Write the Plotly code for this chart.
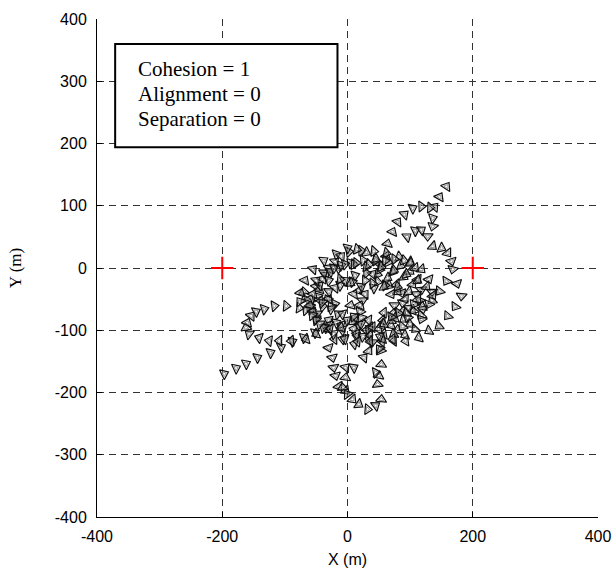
import numpy as np
import plotly.graph_objects as go

# ---- data ----
goal_x = [-200, 200]
goal_y = [0, 0]

track_a_x = [-197, -178, -162, -144, -123, -106, -88, -70, -52, -35, -18]
track_a_y = [-170, -161, -154, -144, -136, -127, -118, -112, -104, -96, -88]

track_b_x = [-32, -50, -66, -90, -109, -125, -141, -157, -162, -160, -154, -146, -133, -117, -98, -77, -58, -40, -20]
track_b_y = [-98, -106, -114, -117, -117, -117, -112, -106, -96, -88, -77, -70, -66, -61, -61, -64, -67, -62, -58]

track_c_x = [40, 52, 62, 64, 72, 80, 91, 104, 118, 132, 139, 147, 158]
track_c_y = [-10, 5, 19, 39, 58, 74, 86, 96, 99, 97, 98, 114, 131]

track_d_x = [95, 108, 118, 136, 136, 128, 136, 150, 160, 166, 168, 158, 147, 135, 120, 104, 88, 74, 58]
track_d_y = [50, 60, 61, 80, 67, 51, 35, 32, 24, 11, -2, -21, -37, -52, -62, -68, -70, -72, -72]

track_e_x = [175, 182, 172, 160, 146, 130, 114, 93, 74, 55, 35, 15]
track_e_y = [-25, -45, -62, -77, -93, -101, -112, -117, -117, -118, -115, -110]

track_f_x = [-30, -24, -22, -19, -14, -3, 8, 18, 32, 45, 54, 48, 50, 54, 53, 40, 25]
track_f_y = [-128, -144, -160, -173, -190, -197, -211, -219, -227, -221, -211, -187, -173, -155, -133, -120, -110]

track_g_x = [0, -8, -3, -3, 10, 26, 34, 45, 51, 11, -8, -21]
track_g_y = [-203, -192, -176, -160, -160, -144, -133, -168, -130, -122, -114, -114]

loop_h_x = [-60, -50, -35, -15, 5, 25, 45, 65, 85, 100, 112, 118, 115, 105, 90, 70, 50, 30, 10, -10, -30, -48, -60, -68, -70]
loop_h_y = [-50, -30, -12, 0, 8, 12, 12, 10, 4, -5, -18, -35, -52, -68, -82, -92, -98, -100, -98, -92, -84, -74, -62, -50, -38]

loop_i_x = [-75, -68, -55, -38, -18, 2, 22, 42, 62, 82, 100, 118, 130, 135, 130, 118, 100, 80, 58, 36, 14, -8, -30, -50, -66, -76]
loop_i_y = [-40, -20, -2, 12, 22, 26, 28, 27, 24, 18, 10, -2, -18, -38, -58, -76, -90, -100, -106, -108, -106, -100, -92, -82, -68, -54]

loop_j_x = [-30, -20, -5, 12, 30, 48, 64, 78, 86, 88, 82, 70, 54, 36, 18, 0, -15, -26, -32]
loop_j_y = [-50, -32, -20, -12, -8, -10, -16, -26, -40, -56, -72, -84, -92, -95, -92, -84, -74, -62, -50]

loop_k_x = [-30, -20, -10, 0, 15, 30, 45, 60, 75, 90, 100, 108]
loop_k_y = [0, 10, 19, 32, 30, 25, 15, 12, 14, 12, 8, 0]

loop_l_x = [-55, -45, -30, -12, 8, 28, 48, 66, 80, 92, 98, 96, 88, 74, 56, 36, 16, -4, -22, -38, -50]
loop_l_y = [-70, -52, -38, -28, -22, -20, -22, -28, -38, -50, -64, -80, -94, -106, -114, -118, -118, -114, -106, -96, -84]

loop_m_x = [-45, -40, -28, -10, 10, 30, 52, 72, 90, 104, 110, 106, 94, 76, 56, 34, 12, -8, -26, -40, -48]
loop_m_y = [-35, -18, -6, 4, 6, 2, -2, -6, -14, -26, -42, -58, -72, -80, -84, -84, -80, -74, -66, -56, -46]

loop_n_x = [-60, -55, -45, -30, -12, 5, 18, 24, 20, 8, -10, -28, -44, -56]
loop_n_y = [-60, -42, -28, -20, -18, -24, -36, -52, -70, -86, -96, -98, -90, -76]

loop_o_x = [20, 28, 42, 60, 80, 98, 112, 120, 118, 108, 92, 72, 52, 34, 22]
loop_o_y = [-60, -42, -32, -28, -30, -38, -50, -66, -82, -98, -108, -114, -110, -98, -80]

loop_p_x = [-50, -38, -22, -4, 14, 34, 54, 74, 94, 112, 126, 136]
loop_p_y = [-20, -8, 0, 6, 8, 6, 2, -4, -10, -20, -30, -44]

loop_q_x = [5, 10, 22, 40, 58, 70, 75, 70, 58, 40, 22, 10]
loop_q_y = [-60, -42, -30, -25, -30, -42, -60, -78, -90, -95, -90, -78]

tracks = [
    (track_a_x, track_a_y), (track_b_x, track_b_y), (track_c_x, track_c_y),
    (track_d_x, track_d_y), (track_e_x, track_e_y), (track_f_x, track_f_y),
    (track_g_x, track_g_y), (loop_h_x, loop_h_y), (loop_i_x, loop_i_y),
    (loop_j_x, loop_j_y), (loop_k_x, loop_k_y), (loop_l_x, loop_l_y),
    (loop_m_x, loop_m_y), (loop_n_x, loop_n_y), (loop_o_x, loop_o_y),
    (loop_p_x, loop_p_y), (loop_q_x, loop_q_y),
]

x_ticks = [-400, -200, 0, 200, 400]
y_ticks = [-400, -300, -200, -100, 0, 100, 200, 300, 400]
legend_lines = ["Cohesion = 1", "Alignment = 0", "Separation = 0"]

fig = go.Figure()

for tx, ty in tracks:
    ax = np.array(tx, dtype=float)
    ay = np.array(ty, dtype=float)
    dx = np.gradient(ax)
    dy = np.gradient(ay)
    ang = -np.degrees(np.arctan2(dy, dx))
    # outer outline
    fig.add_trace(go.Scatter(
        x=ax, y=ay, mode="markers",
        marker=dict(symbol="triangle-right-open", size=9.5, color="#111111",
                    angle=ang, line=dict(width=1.2, color="#111111")),
        hoverinfo="skip", showlegend=False,
    ))
    # inner grey outline
    fig.add_trace(go.Scatter(
        x=ax, y=ay, mode="markers",
        marker=dict(symbol="triangle-right-open", size=4.5, color="#8a8a8a",
                    angle=ang, line=dict(width=0.9, color="#8a8a8a")),
        hoverinfo="skip", showlegend=False,
    ))

fig.add_trace(go.Scatter(
    x=goal_x, y=goal_y, mode="markers",
    marker=dict(symbol="cross-thin", size=16, line=dict(width=2, color="#ff0000"), color="#ff0000"),
    showlegend=False, hoverinfo="skip",
))

# legend-like text box
fig.add_shape(type="rect", xref="x", yref="y", x0=-371, x1=-16, y0=194, y1=360,
              line=dict(color="black", width=2), fillcolor="white", layer="above")
for i, (txt, yy) in enumerate(zip(legend_lines, [320, 279, 239])):
    fig.add_annotation(x=-338, y=yy, xref="x", yref="y", text=txt, showarrow=False,
                       xanchor="left", yanchor="middle",
                       font=dict(family="Liberation Serif, Times New Roman, serif", size=21, color="black"))

axis_common = dict(
    showgrid=True, gridcolor="#333333", gridwidth=1, griddash="7px,5px",
    zeroline=False, showline=True, linecolor="black", linewidth=1,
    ticks="inside", ticklen=5, tickcolor="black", mirror=False, automargin=False,
    tickfont=dict(family="Liberation Sans, Arial, sans-serif", size=16, color="black"),
)

fig.update_xaxes(range=[-400, 400], tickvals=x_ticks, ticktext=[str(v) for v in x_ticks],
                 ticklabelstandoff=5,
                 title=dict(text="X (m)", font=dict(family="Liberation Sans, Arial, sans-serif", size=16, color="black"), standoff=9),
                 **axis_common)
fig.update_yaxes(range=[-400, 400], tickvals=y_ticks, ticktext=[str(v) for v in y_ticks],
                 ticklabelstandoff=6,
                 title=dict(text="Y (m)", font=dict(family="Liberation Serif, Times New Roman, serif", size=17, color="black"), standoff=28),
                 **axis_common)

fig.update_layout(
    width=612, height=574,
    margin=dict(l=97, r=14, t=19, b=57),
    plot_bgcolor="white", paper_bgcolor="white",
)

fig.write_html("out.html")
